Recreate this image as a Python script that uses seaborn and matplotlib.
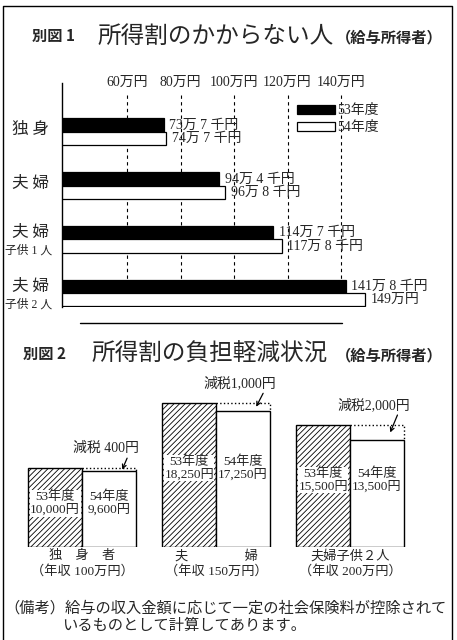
import pandas as pd
import seaborn as sns
import matplotlib.pyplot as plt
from matplotlib.lines import Line2D
from matplotlib.transforms import blended_transform_factory
from matplotlib.font_manager import FontProperties

# 別図1 所得割のかからない人 (万円)
cats1 = ['独身', '夫婦', '夫婦子供1人', '夫婦子供2人']
main1 = ['独 身', '夫 婦', '夫 婦', '夫 婦']
sub1 = ['', '', '子供 1 人', '子供 2 人']
years = ['53年度', '54年度']
v53 = [73.7, 94.4, 114.7, 141.8]
v54 = [74.7, 96.8, 117.8, 149.0]
grid_vals = [60, 80, 100, 120, 140]

# 別図2 所得割の負担軽減状況 (円)
cats2 = ['独身者', '夫婦', '夫婦子供2人']
cat2_labels = ['独　身　者\n（年収 100万円）',
               '夫　　　　 婦\n（年収 150万円）',
               '夫婦子供２人\n（年収 200万円）']
tax53 = [10000, 18250, 15500]
tax54 = [9600, 17250, 13500]

notes = ['（備考）給与の収入金額に応じて一定の社会保険料が控除されて',
         'いるものとして計算してあります。']

sns.set_style('white')
plt.rcParams['font.family'] = ['Liberation Serif', 'Noto Sans CJK JP']
plt.rcParams['hatch.linewidth'] = 0.6
JP = ['Noto Sans CJK JP']

W, H = 457, 640
fx = lambda px: px / W
fy = lambda py: 1 - py / H

fig = plt.figure(figsize=(W / 100, H / 100), dpi=100)


def man_label(v):
    m = int(v)
    k = round((v - m) * 10)
    return f'{m}万円' if k == 0 else f'{m}万 {k} 千円'


# ---- 別図1 ----
fig.text(fx(32), fy(36), '別図 1', fontsize=11, weight='bold', va='center', family=JP)
fig.text(fx(98), fy(36), '所得割のかからない人', fontsize=17, va='center', family=JP)
fig.text(fx(336), fy(37), '（給与所得者）', fontsize=11, weight='bold', va='center', family=JP)

df1 = pd.DataFrame({'cat': cats1 * 2,
                    'year': [years[0]] * 4 + [years[1]] * 4,
                    'val': v53 + v54})
ax1 = fig.add_axes([fx(62), fy(307), (440 - 62) / W, (307 - 83) / H])
sns.barplot(data=df1, y='cat', x='val', hue='year', order=cats1, hue_order=years,
            palette=['black', 'white'], orient='h', width=0.5, saturation=1,
            edgecolor='black', linewidth=0.9, zorder=2, ax=ax1)
ax1.set_xlim(35.7, 177)
ax1.set_ylim(3.26, -0.91)
ax1.vlines(grid_vals, -0.69, 3.26, colors='black', linestyles=(0, (3, 3)), lw=0.8, zorder=1)
ax1.set_xticks(grid_vals)
ax1.set_xticklabels([f'{v}万円' for v in grid_vals])
ax1.xaxis.tick_top()
ax1.tick_params(axis='x', length=0, pad=-4, labelsize=10)
ax1.set_yticks(range(len(cats1)))
ax1.set_yticklabels([])
ax1.tick_params(axis='y', length=0)
ax1.set_xlabel('')
ax1.set_ylabel('')
for s in ['top', 'right', 'bottom']:
    ax1.spines[s].set_visible(False)
ax1.spines['left'].set_color('black')
ax1.spines['left'].set_linewidth(1)

ax1.bar_label(ax1.containers[0], labels=[man_label(v) for v in v53], padding=4, fontsize=10)
ax1.bar_label(ax1.containers[1], labels=[man_label(v) for v in v54], padding=4, fontsize=10)

tr = blended_transform_factory(fig.transFigure, ax1.transData)
for i in range(len(cats1)):
    if sub1[i]:
        ax1.text(fx(12), i - 0.12, main1[i], transform=tr, fontsize=12, va='center', family=JP)
        ax1.text(fx(5), i + 0.21, sub1[i], transform=tr, fontsize=8.5, va='center')
    else:
        ax1.text(fx(12), i - 0.04, main1[i], transform=tr, fontsize=12, va='center', family=JP)

h, l = ax1.get_legend_handles_labels()
ax1.get_legend().remove()
ax1.legend(h, l, loc='upper left', bbox_to_anchor=(fx(297), fy(104)),
           bbox_transform=fig.transFigure, frameon=False, handlelength=2.7,
           handleheight=0.6, handletextpad=0.2, labelspacing=0.3, borderpad=0,
           borderaxespad=0, prop=FontProperties(family=['Liberation Serif', 'Noto Sans CJK JP'], size=10))

# separator
fig.add_artist(Line2D([fx(80), fx(342)], [fy(323), fy(323)], transform=fig.transFigure,
                      color='black', lw=1))

# ---- 別図2 ----
fig.text(fx(23), fy(354), '別図 2', fontsize=11, weight='bold', va='center', family=JP)
fig.text(fx(91), fy(354), '所得割の負担軽減状況', fontsize=17, va='center', family=JP)
fig.text(fx(336), fy(355), '（給与所得者）', fontsize=11, weight='bold', va='center', family=JP)

df2 = pd.DataFrame({'cat': cats2 * 2,
                    'year': [years[0]] * 3 + [years[1]] * 3,
                    'val': tax53 + tax54})
ax2 = fig.add_axes([fx(8.3), fy(547), 428.8 / W, 165.9 / H])
sns.barplot(data=df2, x='cat', y='val', hue='year', order=cats2, hue_order=years,
            palette=['white', 'white'], saturation=1, width=0.8,
            edgecolor='black', linewidth=1, legend=False, ax=ax2)
for p in ax2.containers[0]:
    p.set_hatch('//////')
ax2.set_xlim(-0.55, 2.65)
ax2.set_ylim(0, 21000)
sns.despine(ax=ax2, left=True, bottom=True)
ax2.set_yticks([])
ax2.set_xticks(range(len(cats2)))
ax2.set_xticklabels(cat2_labels, fontsize=9.5, linespacing=1.25)
ax2.tick_params(axis='x', length=0, pad=2)
ax2.set_xlabel('')
ax2.set_ylabel('')

for i in range(len(cats2)):
    p53 = ax2.containers[0][i]
    p54 = ax2.containers[1][i]
    for p, vals, yr in [(p53, tax53, years[0]), (p54, tax54, years[1])]:
        cx = p.get_x() + p.get_width() / 2
        ax2.text(cx, tax53[i] * 0.55, f'{yr}\n{vals[i]:,}円', ha='center', va='center',
                 fontsize=9.5, linespacing=1.05,
                 bbox=dict(fc='white', ec='none', pad=0.3))
    x0 = p54.get_x()
    x1 = x0 + p54.get_width()
    ax2.plot([x0, x1, x1], [tax53[i], tax53[i], tax54[i]], ls=':', color='black', lw=1)
    red = tax53[i] - tax54[i]
    lab = f'減税 {red:,}円' if red < 1000 else f'減税{red:,}円'
    cx54 = x0 + p54.get_width() / 2
    ax2.annotate(lab, xy=(cx54 + 0.1, (tax53[i] + tax54[i]) / 2),
                 xytext=(cx54 - 0.02, tax53[i] + 2500), ha='center', va='center',
                 fontsize=10, zorder=5,
                 arrowprops=dict(arrowstyle='->', lw=0.9, color='black', shrinkA=0,
                                 shrinkB=0, mutation_scale=7, relpos=(0.84, 0)))

fig.text(fx(4), fy(608), notes[0], fontsize=11, va='center', family=JP)
fig.text(fx(62), fy(625), notes[1], fontsize=11, va='center', family=JP)

# frame
fig.add_artist(Line2D([fx(3), fx(3), fx(452), fx(452)], [fy(645), fy(6), fy(6), fy(645)],
                      transform=fig.transFigure, color='black', lw=1))

fig.savefig('out.png', dpi=100)
